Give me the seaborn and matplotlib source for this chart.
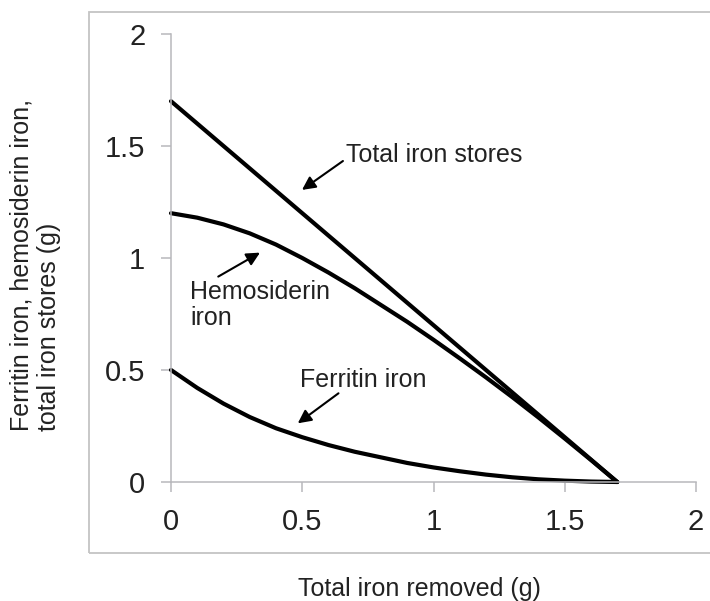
import matplotlib
matplotlib.use("Agg")
import matplotlib.pyplot as plt
from matplotlib.patches import Rectangle
import seaborn as sns
import numpy as np

# values
removed = [0.0, 0.1, 0.2, 0.3, 0.4, 0.5, 0.6, 0.7, 0.8, 0.9,
           1.0, 1.1, 1.2, 1.3, 1.4, 1.5, 1.6, 1.7]
ferritin = [0.50, 0.42, 0.35, 0.29, 0.24, 0.20, 0.165, 0.135, 0.11, 0.085,
            0.065, 0.048, 0.033, 0.021, 0.012, 0.006, 0.002, 0.0]
hemosiderin = [1.20, 1.18, 1.15, 1.11, 1.06, 1.00, 0.935, 0.865, 0.79, 0.715,
               0.635, 0.552, 0.467, 0.379, 0.288, 0.194, 0.098, 0.0]
total_x = [0.0, 1.7]
total_y = [1.7, 0.0]

ticks = [0, 0.5, 1, 1.5, 2]
tick_labels = ["0", "0.5", "1", "1.5", "2"]

sns.set_style("white")
plt.rcParams['font.family'] = ['Liberation Sans', 'DejaVu Sans']

grey = "#b8b8bc"
fig = plt.figure(figsize=(7.10, 6.01), dpi=100)

# light grey outer frame around the chart
fig.patches.append(Rectangle((89 / 710, 1 - 553 / 601), 0.9, 541 / 601,
                             transform=fig.transFigure, fill=False,
                             edgecolor="#c4c4c4", linewidth=1.3))

ax = fig.add_axes([171 / 710, 1 - 482 / 601, 525 / 710, 448 / 601])

line_kw = dict(color="black", linewidth=3.0, clip_on=False, legend=False)
sns.lineplot(x=total_x, y=total_y, ax=ax, **line_kw)
sns.lineplot(x=removed, y=hemosiderin, ax=ax, **line_kw)
sns.lineplot(x=removed, y=ferritin, ax=ax, **line_kw)

ax.set_xlim(0, 2)
ax.set_ylim(0, 2)
ax.set_xticks(ticks)
ax.set_xticklabels(tick_labels)
ax.set_yticks(ticks)
ax.set_yticklabels(tick_labels)
ax.set_xlabel("")
ax.set_ylabel("")
ax.tick_params(axis="both", direction="out", length=7.5, width=1.1,
               color=grey, labelsize=21, labelcolor="#222222",
               bottom=True, left=True)
ax.tick_params(axis="y", pad=11)
ax.tick_params(axis="x", pad=11)
for side in ["top", "right"]:
    ax.spines[side].set_visible(False)
for side in ["left", "bottom"]:
    ax.spines[side].set_color(grey)
    ax.spines[side].set_linewidth(1.1)
ax.patch.set_alpha(0)

arrow = dict(arrowstyle="-|>", color="black", lw=1.5, mutation_scale=20,
             shrinkA=0, shrinkB=0)
txt_kw = dict(fontsize=18, color="#222222")

ax.annotate("", xy=(0.499, 1.304), xytext=(0.655, 1.433), arrowprops=arrow)
ax.text(0.668, 1.46, "Total iron stores", ha="left", va="center", **txt_kw)

ax.annotate("", xy=(0.339, 1.024), xytext=(0.180, 0.917), arrowprops=arrow)
ax.text(0.072, 0.79, "Hemosiderin\niron", ha="left", va="center",
        linespacing=1.15, **txt_kw)

ax.annotate("", xy=(0.483, 0.262), xytext=(0.638, 0.396), arrowprops=arrow)
ax.text(0.491, 0.455, "Ferritin iron", ha="left", va="center", **txt_kw)

fig.text(35 / 710, 1 - 265 / 601,
         "Ferritin iron, hemosiderin iron,\ntotal iron stores (g)",
         rotation=90, ha="center", va="center", multialignment="left",
         fontsize=18, color="#222222")
fig.text(419 / 710, 1 - 589 / 601, "Total iron removed (g)",
         ha="center", va="center", fontsize=18, color="#222222")

fig.savefig("out.png", dpi=100)
